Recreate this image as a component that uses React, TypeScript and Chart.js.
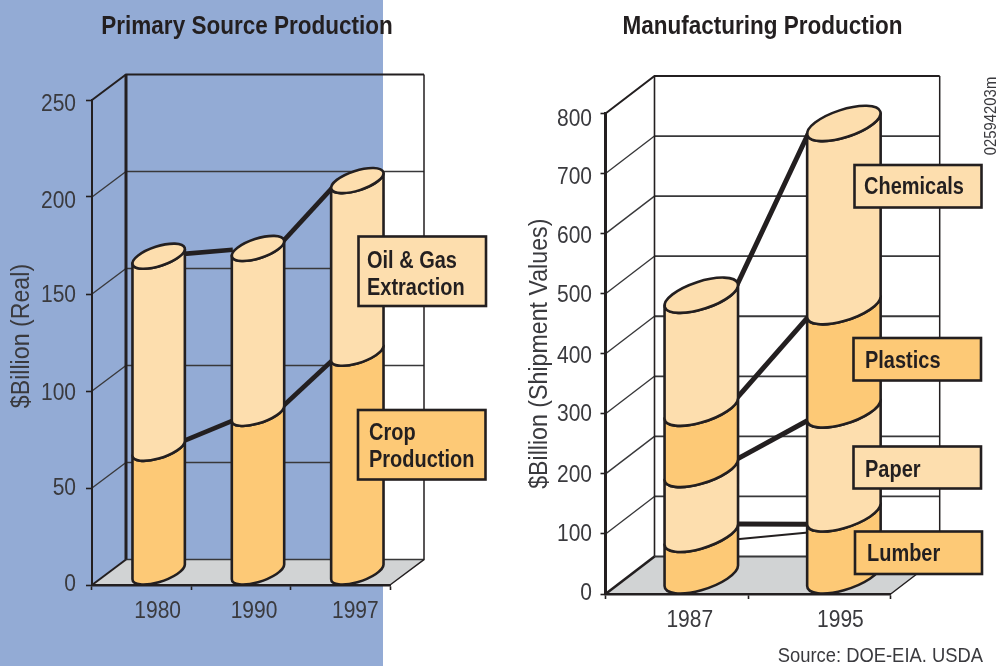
import React, { useEffect, useRef } from "react";
import { Chart, registerables } from "chart.js";

Chart.register(...registerables);

const primaryYears = ["1980", "1990", "1997"];
const cropProduction = [64, 82, 113];
const oilGasExtraction = [99, 85, 89];

const manufacturingYears = ["1987", "1995"];
const lumber = [70, 104];
const paper = [108, 173];
const plastics = [102, 172];
const chemicals = [188, 305];

const INK = "#231F20";
const TEXT = "#3A3A3E";
const CREAM = "#FDDEAE";
const ORANGE = "#FDC976";
const FLOOR = "#D1D3D4";
const BLUE = "#93ABD5";
const FAMILY = '"Liberation Sans", sans-serif';

type Box = { x: number; y: number; w: number; h: number; fill: string; tx: number; lines: string[]; ly: number[] };

type Cfg = {
  dx: number;
  dy: number;
  backWidth: number;
  frontDiag: number;
  topWidth: number;
  gridBack: number;
  gridSide: number;
  connector: number;
  labelY: number;
  nudges: number[];
  yNudges: number[];
  yLabelRight: number;
  segNudge?: Record<string, [number, number]>;
  thin?: { ds: number; from: number; to: number };
  boxes: Box[];
  extra?: (ctx: CanvasRenderingContext2D) => void;
};

// The reference is set in a condensed face; none is installed, so glyphs are
// narrowed around their anchor point, which also covers Chart.js's own text.
function condense(canvas: HTMLCanvasElement) {
  const ctx: any = canvas.getContext("2d");
  if (ctx.__condensed) return;
  ctx.__condensed = true;
  const original = ctx.fillText.bind(ctx);
  ctx.fillText = (s: string, x: number, y: number) => {
    const bold = /bold/.test(ctx.font);
    const big = /25px/.test(ctx.font);
    const sx = bold ? (big ? 0.9 : 0.85) : 0.875;
    ctx.save();
    ctx.translate(x, y);
    ctx.scale(sx, 1);
    original(s, 0, 0);
    ctx.restore();
  };
}

function cyl(el: any, cfg: Cfg) {
  const th = (-18 * Math.PI) / 180;
  const hw = el.width / 2;
  const a = 1.045 * hw;
  const b = 0.375 * hw;
  const t0 = Math.atan2(-b * Math.sin(th), a * Math.cos(th));
  const ey = Math.sqrt(a * a * Math.sin(th) ** 2 + b * b * Math.cos(th) ** 2);
  const side = a * Math.cos(t0) * Math.sin(th) + b * Math.sin(t0) * Math.cos(th);
  return { cx: el.x + cfg.dx / 2, hw, a, b, th, t0, ey, side };
}

function scene(cfg: Cfg) {
  return {
    id: "scene",
    beforeDraw(chart: any) {
      const ctx: CanvasRenderingContext2D = chart.ctx;
      const { left, right, top, bottom } = chart.chartArea;
      const { dx, dy } = cfg;
      const y = chart.scales.y;
      ctx.save();
      ctx.lineCap = "butt";
      ctx.fillStyle = FLOOR;
      ctx.beginPath();
      ctx.moveTo(left, bottom);
      ctx.lineTo(right, bottom);
      ctx.lineTo(right + dx, bottom + dy);
      ctx.lineTo(left + dx, bottom + dy);
      ctx.closePath();
      ctx.fill();
      ctx.strokeStyle = "#38383A";
      for (const t of y.ticks) {
        const py = y.getPixelForValue(t.value);
        if (t.value === y.max) continue;
        if (t.value !== 0) {
          ctx.lineWidth = cfg.gridSide;
          ctx.beginPath();
          ctx.moveTo(left, py);
          ctx.lineTo(left + dx, py + dy);
          ctx.stroke();
        }
        ctx.lineWidth = cfg.gridBack;
        ctx.beginPath();
        ctx.moveTo(left + dx, py + dy);
        ctx.lineTo(right + dx, py + dy);
        ctx.stroke();
      }
      ctx.strokeStyle = INK;
      ctx.lineWidth = 1.5;
      ctx.beginPath();
      ctx.moveTo(right + dx, top + dy);
      ctx.lineTo(right + dx, bottom + dy);
      ctx.lineTo(right, bottom);
      ctx.stroke();
      ctx.lineWidth = cfg.topWidth;
      ctx.beginPath();
      ctx.moveTo(left, top);
      ctx.lineTo(left + dx, top + dy);
      ctx.lineTo(right + dx, top + dy);
      ctx.stroke();
      ctx.lineWidth = cfg.backWidth;
      ctx.beginPath();
      ctx.moveTo(left + dx, top + dy);
      ctx.lineTo(left + dx, bottom + dy);
      ctx.stroke();
      ctx.lineWidth = cfg.frontDiag;
      ctx.beginPath();
      ctx.moveTo(left, bottom);
      ctx.lineTo(left + dx, bottom + dy);
      ctx.stroke();
      ctx.restore();
    },
    beforeDatasetsDraw(chart: any) {
      const ctx: CanvasRenderingContext2D = chart.ctx;
      const n = chart.data.datasets.length;
      ctx.save();
      ctx.strokeStyle = INK;
      ctx.lineCap = "butt";
      for (let i = 0; i < n; i++) {
        const els = chart.getDatasetMeta(i).data;
        for (let j = 0; j + 1 < els.length; j++) {
          const g0 = cyl(els[j], cfg);
          const g1 = cyl(els[j + 1], cfg);
          const nudge = cfg.segNudge?.[`${i}-${j}`] ?? [0, 0];
          ctx.lineWidth = cfg.connector;
          ctx.beginPath();
          ctx.moveTo(g0.cx + g0.hw - 1, els[j].y - g0.ey + g0.side + nudge[0]);
          ctx.lineTo(g1.cx - g1.hw + 1, els[j + 1].y - g1.ey - g1.side + nudge[1]);
          ctx.stroke();
          if (cfg.thin && cfg.thin.ds === i) {
            ctx.lineWidth = 2;
            ctx.beginPath();
            ctx.moveTo(g0.cx + g0.hw - 1, els[j].y + cfg.thin.from);
            ctx.lineTo(g1.cx - g1.hw + 1, els[j + 1].y + cfg.thin.to);
            ctx.stroke();
          }
        }
      }
      for (let i = 0; i < n; i++) {
        const meta = chart.getDatasetMeta(i);
        meta.data.forEach((el: any) => {
          const g = cyl(el, cfg);
          const yt = el.y - g.ey;
          const yb = el.base - g.ey;
          ctx.fillStyle = el.options.backgroundColor;
          ctx.lineWidth = 2.6;
          ctx.lineJoin = "round";
          ctx.beginPath();
          ctx.ellipse(g.cx, yt, g.a, g.b, g.th, g.t0, g.t0 + Math.PI);
          ctx.ellipse(g.cx, yb, g.a, g.b, g.th, g.t0 + Math.PI, g.t0, true);
          ctx.closePath();
          ctx.fill();
          ctx.stroke();
          if (i === n - 1) {
            ctx.beginPath();
            ctx.ellipse(g.cx, yt, g.a, g.b, g.th, 0, Math.PI * 2);
            ctx.fill();
            ctx.stroke();
          }
        });
      }
      ctx.restore();
      return false;
    },
    afterDraw(chart: any) {
      const ctx: CanvasRenderingContext2D = chart.ctx;
      const x = chart.scales.x;
      const y = chart.scales.y;
      ctx.save();
      ctx.textBaseline = "middle";
      ctx.textAlign = "center";
      ctx.fillStyle = TEXT;
      ctx.font = `24px ${FAMILY}`;
      chart.data.labels.forEach((l: string, i: number) => {
        ctx.fillText(l, x.getPixelForTick(i) + cfg.nudges[i], cfg.labelY + 1);
      });
      ctx.textAlign = "right";
      y.ticks.forEach((t: any, i: number) => {
        ctx.fillText(String(t.value), cfg.yLabelRight, y.getPixelForValue(t.value) + cfg.yNudges[i] + 1);
      });
      ctx.textAlign = "left";
      ctx.lineJoin = "miter";
      for (const b of cfg.boxes) {
        ctx.fillStyle = b.fill;
        ctx.strokeStyle = INK;
        ctx.lineWidth = 2.6;
        ctx.fillRect(b.x, b.y, b.w, b.h);
        ctx.strokeRect(b.x, b.y, b.w, b.h);
        ctx.fillStyle = INK;
        ctx.font = `bold 23.5px ${FAMILY}`;
        b.lines.forEach((s, k) => ctx.fillText(s, b.tx, b.ly[k] + 2));
      }
      cfg.extra?.(ctx);
      ctx.restore();
    },
  };
}

function makeChart(
  canvas: HTMLCanvasElement,
  o: {
    title: string;
    yTitle: string;
    labels: string[];
    series: { label: string; data: number[]; color: string }[];
    max: number;
    step: number;
    axisW: number;
    xH: number;
    padRight: number;
    titleBottom: number;
    barPct: number;
    border: number;
    tickLen: number;
    yTitlePad: number;
    cfg: Cfg;
  }
) {
  condense(canvas);
  return new Chart(canvas, {
    type: "bar",
    data: {
      labels: o.labels,
      datasets: o.series.map((s) => ({ label: s.label, data: s.data, backgroundColor: s.color })),
    },
    options: {
      animation: false,
      responsive: false,
      devicePixelRatio: 1,
      barPercentage: o.barPct,
      categoryPercentage: 1,
      layout: { padding: 0 },
      plugins: {
        legend: { display: false },
        tooltip: { enabled: false },
        title: {
          display: true,
          text: o.title,
          color: INK,
          font: { family: FAMILY, size: 25, weight: "bold" },
          padding: { top: 12, bottom: o.titleBottom },
        },
      },
      scales: {
        x: {
          stacked: true,
          afterFit: (s: any) => {
            s.height = o.xH;
          },
          border: { color: INK, width: 2.4 },
          grid: { drawOnChartArea: false, tickLength: 5, tickColor: INK, tickWidth: 1.6 },
          ticks: { display: false },
        },
        y: {
          stacked: true,
          min: 0,
          max: o.max,
          afterFit: (s: any) => {
            s.width = o.axisW;
          },
          border: { color: INK, width: o.border },
          grid: { drawOnChartArea: false, tickLength: o.tickLen, tickColor: INK, tickWidth: 1.6 },
          ticks: { stepSize: o.step, display: false },
          title: {
            display: true,
            text: o.yTitle,
            color: TEXT,
            font: { family: FAMILY, size: 26.5 },
            padding: { top: o.yTitlePad, bottom: 0 },
          },
        },
        // Empty axis that reserves the room right of the plot, so the title still centres on the full canvas.
        margin: {
          type: "linear",
          position: "right",
          afterFit: (s: any) => {
            s.width = o.padRight;
          },
          border: { display: false },
          grid: { display: false },
          ticks: { display: false },
        },
      },
    } as any,
    plugins: [scene(o.cfg) as any],
  });
}

export default function App() {
  const leftRef = useRef<HTMLCanvasElement>(null);
  const rightRef = useRef<HTMLCanvasElement>(null);

  useEffect(() => {
    const left = makeChart(leftRef.current!, {
      title: "Primary Source Production",
      yTitle: "  $Billion (Real)",
      labels: primaryYears,
      series: [
        { label: "Crop Production", data: cropProduction, color: ORANGE },
        { label: "Oil & Gas Extraction", data: oilGasExtraction, color: CREAM },
      ],
      max: 250,
      step: 50,
      axisW: 92,
      xH: 81,
      padRight: 494 - 390,
      titleBottom: 58,
      barPct: 0.527,
      border: 2,
      tickLen: 6,
      yTitlePad: 6,
      cfg: {
        dx: 34,
        dy: -25.5,
        backWidth: 3,
        frontDiag: 2,
        topWidth: 2,
        gridBack: 1.3,
        gridSide: 1.3,
        connector: 4.6,
        labelY: 610,
        nudges: [16, 13, 15],
        yNudges: [-2, -1, 1, 0.5, 3, 3],
        yLabelRight: 76,
        segNudge: { "1-0": [5, -6] },
        boxes: [
          { x: 358.5, y: 236.5, w: 127.5, h: 69.5, fill: CREAM, tx: 367, lines: ["Oil & Gas", "Extraction"], ly: [260, 287] },
          { x: 358, y: 410, w: 127.5, h: 69.5, fill: ORANGE, tx: 369, lines: ["Crop", "Production"], ly: [432, 459] },
        ],
      },
    });
    const off = 524;
    const right = makeChart(rightRef.current!, {
      title: "Manufacturing Production",
      yTitle: "$Billion (Shipment Values)",
      labels: manufacturingYears,
      series: [
        { label: "Lumber", data: lumber, color: ORANGE },
        { label: "Paper", data: paper, color: CREAM },
        { label: "Plastics", data: plastics, color: ORANGE },
        { label: "Chemicals", data: chemicals, color: CREAM },
      ],
      max: 800,
      step: 100,
      axisW: 605.5 - off,
      xH: 72,
      padRight: 477 - (890.7 - off),
      titleBottom: 71.5,
      barPct: 0.515,
      border: 3,
      tickLen: 5,
      yTitlePad: 0,
      cfg: {
        dx: 49,
        dy: -37.5,
        backWidth: 1.6,
        frontDiag: 2.6,
        topWidth: 2,
        gridBack: 1.8,
        gridSide: 1.4,
        connector: 5,
        labelY: 619,
        nudges: [13, 21],
        yNudges: [-2, -1, 0, 0, 1.5, 1, 2, 3, 4.5],
        yLabelRight: 592 - off,
        thin: { ds: 0, from: -12.7, to: 1 },
        boxes: [
          { x: 854.5 - off, y: 165, w: 127, h: 42.5, fill: CREAM, tx: 864 - off, lines: ["Chemicals"], ly: [186] },
          { x: 853.5 - off, y: 338, w: 127.5, h: 42.5, fill: ORANGE, tx: 865 - off, lines: ["Plastics"], ly: [360] },
          { x: 853.5 - off, y: 446.5, w: 127.5, h: 42, fill: CREAM, tx: 865 - off, lines: ["Paper"], ly: [469] },
          { x: 855 - off, y: 531.5, w: 127, h: 42.5, fill: ORANGE, tx: 867 - off, lines: ["Lumber"], ly: [553] },
        ],
        extra: (ctx) => {
          ctx.fillStyle = TEXT;
          ctx.font = `21px ${FAMILY}`;
          ctx.textAlign = "right";
          ctx.fillText("Source: DOE-EIA. USDA", 983 - off, 656);
          ctx.save();
          ctx.translate(991 - off, 116);
          ctx.rotate(-Math.PI / 2);
          ctx.textAlign = "center";
          ctx.font = `17px ${FAMILY}`;
          ctx.fillText("02594203m", 0, 0);
          ctx.restore();
        },
      },
    });
    return () => {
      left.destroy();
      right.destroy();
    };
  }, []);

  return (
    <div style={{ position: "fixed", inset: 0, background: "#fff", overflow: "hidden" }}>
      <div style={{ position: "absolute", left: 0, top: 0, width: 383, height: 666, background: BLUE }} />
      <canvas ref={leftRef} width={494} height={666} style={{ position: "absolute", left: 0, top: 0, width: 494, height: 666 }} />
      <canvas ref={rightRef} width={477} height={666} style={{ position: "absolute", left: 524, top: 0, width: 477, height: 666 }} />
    </div>
  );
}
